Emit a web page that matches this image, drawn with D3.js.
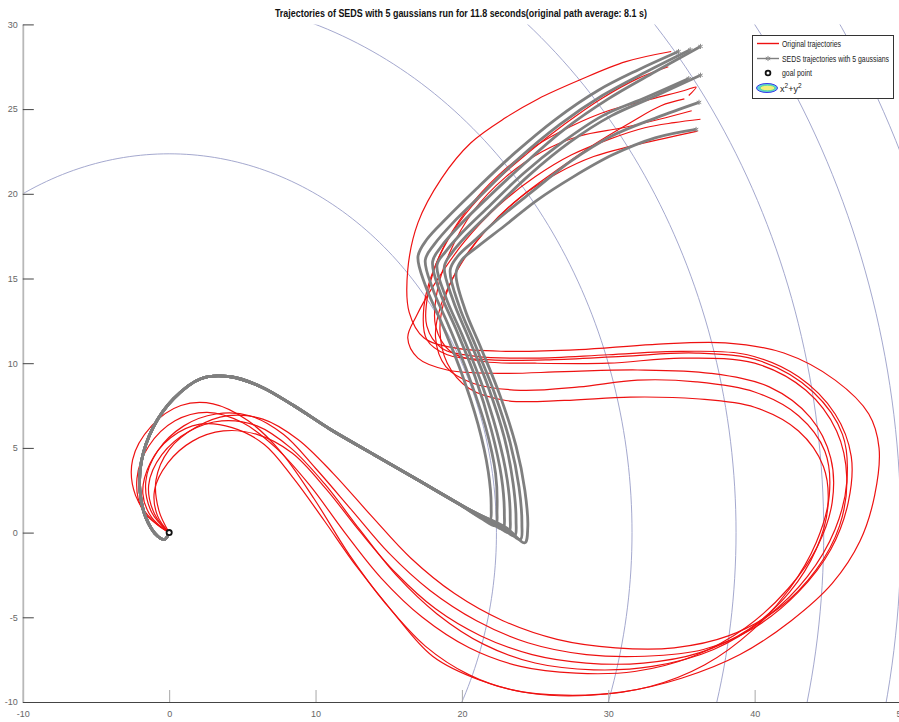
<!DOCTYPE html>
<html>
<head>
<meta charset="utf-8">
<script src="https://cdn.jsdelivr.net/npm/d3@7"></script>
<style>
  body { margin: 0; background: #fff; }
  svg { display: block; font-family: "Liberation Sans", Arial, sans-serif; }
</style>
</head>
<body>
<svg id="chart" width="899" height="722"></svg>
<script>
// ---- axis ticks ----
const xTicks = [-10, 0, 10, 20, 30, 40, 50];
const yTicks = [-10, -5, 0, 5, 10, 15, 20, 25, 30];

// ---- Lyapunov contour levels of x^2 + y^2 ----
const contourLevels = [500, 1000, 1500, 2000, 2500, 3000];

// ---- goal (attractor) ----
const goalPoint = [0, 0];

// ---- original demonstrations [x, y] ----
const original1 = [[34.3,28.4],[31.2,27.8],[28.0,26.7],[25.2,25.6],[23.0,24.5],[20.6,23.0],[18.6,20.9],[17.0,18.3],[16.3,15.5],[16.4,13.0],[17.4,11.5],[19.5,10.9],[23,10.7],[28,10.8],[33,11.1],[38,11.2],[42,10.6],[45.5,9.0],[47.8,7.0],[48.5,5.0],[48.2,2.2],[47.2,-0.5],[45.3,-3.0],[42.5,-5.2],[39,-7.2],[35,-8.6],[31,-9.4],[27,-9.6],[23.5,-9.3],[20.5,-8.4],[17.5,-6.7],[14.8,-4.2],[12.3,-1.3],[9.9,2.0],[7.6,4.8],[5.4,6.6],[3.0,7.6],[0.8,7.5],[-1.2,6.3],[-2.5,4.3],[-2.3,2.2],[-1.0,0.6],[0,0]];
const original2 = [[35.5,25.8],[36.0,26.3],[35.2,26.1],[33,25.6],[30,24.9],[27.5,24.0],[25,22.8],[22.5,21.1],[20.3,19.0],[18.6,16.6],[17.7,14.2],[17.6,12.2],[18.6,10.9],[21,10.4],[25,10.3],[30,10.5],[35,10.7],[39.5,10.5],[43,9.2],[45.5,7.0],[46.6,4.5],[46.4,1.8],[45.2,-1.0],[43,-3.5],[40,-5.6],[36.5,-6.9],[32.5,-7.3],[28.5,-7.2],[24.5,-6.5],[21,-5.2],[17.8,-3.4],[15,-1.2],[12.5,1.3],[10,3.8],[7.8,5.8],[5.5,6.9],[3.2,7.0],[1.0,6.3],[-0.8,4.8],[-1.6,3.0],[-1.2,1.2],[0,0]];
const original3 = [[34.1,27.5],[32,26.8],[29.5,25.6],[27,24.1],[24.5,22.4],[22,20.5],[19.8,18.3],[18.2,15.8],[17.4,13.3],[17.6,11.4],[19.0,10.5],[22,10.2],[26,10.2],[31,10.4],[36,10.6],[40.5,10.1],[44,8.3],[46,5.8],[46.3,3.0],[45.5,0.2],[43.6,-2.6],[40.8,-5.0],[37.2,-6.9],[33,-7.9],[29,-8.1],[25,-7.7],[21.5,-6.6],[18.3,-4.8],[15.5,-2.5],[13,0.2],[10.6,2.9],[8.3,5.0],[6,6.3],[3.6,6.6],[1.4,6.0],[-0.5,4.6],[-1.4,2.8],[-1.0,1.1],[0,0]];
const original4 = [[35.7,24.9],[33.5,24.4],[31,23.9],[28,23.4],[25.5,22.5],[23,21.0],[20.8,19.0],[19.2,16.6],[18.3,14.2],[18.2,12.2],[19.2,10.7],[21.5,10.1],[25,10.0],[30,10.0],[35,10.3],[40,10.0],[43.5,8.4],[45.6,6.0],[46.3,3.2],[45.8,0.4],[44.2,-2.2],[41.6,-4.5],[38.2,-6.1],[34.5,-6.8],[30.5,-6.8],[26.5,-6.3],[22.8,-5.2],[19.5,-3.6],[16.5,-1.5],[13.8,1.0],[11.2,3.5],[8.8,5.5],[6.4,6.7],[4.0,6.9],[1.8,6.2],[0,4.9],[-0.9,3.1],[-0.7,1.3],[0,0]];
const original5 = [[36.3,24.4],[34.5,24.2],[32.5,23.9],[30,23.2],[27.5,22.3],[25,21.0],[22.5,19.3],[20.2,17.2],[18.3,14.9],[16.9,12.8],[16.3,11.5],[17.0,10.3],[19,9.6],[22.5,9.4],[27,9.5],[32,9.6],[37,9.4],[41,8.6],[43.8,6.8],[45.2,4.4],[45.3,1.8],[44.3,-0.8],[42.3,-3.3],[39.4,-5.6],[35.8,-7.3],[31.8,-8.2],[27.8,-8.3],[24,-7.9],[20.5,-6.8],[17.3,-5.0],[14.5,-2.7],[12,0],[9.6,2.8],[7.3,5.0],[5.0,6.5],[2.6,7.1],[0.4,6.6],[-1.4,5.1],[-2.2,3.2],[-1.8,1.3],[0,0]];
const original6 = [[36.1,23.7],[34,23.3],[31.5,22.8],[29,22.2],[26.5,21.2],[24,19.8],[21.8,18.0],[19.9,15.8],[18.6,13.5],[18.2,11.5],[18.9,9.8],[20.8,8.8],[24,8.4],[28,8.6],[32,9.0],[36,8.9],[40,8.3],[43,6.9],[44.8,4.8],[45.1,2.2],[44.2,-0.6],[42.4,-3.3],[39.8,-5.8],[36.6,-7.8],[32.8,-9.1],[28.8,-9.6],[24.8,-9.5],[21.2,-8.7],[18,-7.3],[15.2,-4.6],[12.8,-2.0],[10.6,0.7],[8.5,3.2],[6.5,5.2],[4.3,6.2],[2.1,6.4],[0.1,5.6],[-1.3,4.1],[-1.8,2.3],[-1.2,0.9],[0,0]];
const original7 = [[35.2,25.6],[33.6,25.2],[31.5,24.2],[29,22.9],[26.5,21.4],[24,19.8],[21.8,18.0],[20,16.0],[18.9,14.0],[18.5,12.0],[19.0,10.0],[20.5,8.5],[23,7.8],[27,7.8],[31.5,8.0],[36,7.9],[40,7.4],[43,6.0],[44.7,3.9],[45.0,1.5],[44.2,-1.0],[42.4,-3.5],[39.6,-5.7],[36.2,-7.1],[32.4,-7.7],[28.5,-7.7],[24.8,-7.2],[21.3,-6.1],[18.2,-4.5],[15.5,-2.4],[13,0.1],[10.7,2.6],[8.4,4.7],[6,5.8],[3.7,6.0],[1.6,5.4],[-0.1,4.1],[-1.0,2.5],[-0.8,1.0],[0,0]];
const originalTrajectories = [original1, original2, original3, original4, original5, original6, original7];

// ---- SEDS reproductions: individual descent from each start, then a shared return to the goal ----
const seds1 = [[34.8,28.4],[32,27.3],[29.3,26.1],[26.4,24.4],[23.6,22.4],[21.0,20.3],[19.0,18.6],[17.6,17.3],[17.0,16.3],[17.5,14.6],[18.6,12.4],[19.9,9.6],[21.1,6.4],[21.8,3.6],[22.0,1.5],[21.9,0.7],[21.1,1.0],[19.4,1.9]];
const seds2 = [[35.6,28.5],[32.6,27.2],[29.6,25.8],[26.7,24.1],[23.9,22.1],[21.4,20.0],[19.4,18.3],[18.1,17.0],[17.5,16.1],[18.0,14.4],[19.1,12.2],[20.4,9.4],[21.6,6.3],[22.3,3.5],[22.4,1.3],[22.3,0.4],[21.4,0.8],[19.6,1.8]];
const seds3 = [[36.3,28.7],[33.2,27.2],[30.0,25.6],[27.0,23.8],[24.3,21.8],[21.8,19.8],[19.8,18.1],[18.6,16.9],[18.0,16.0],[18.5,14.2],[19.6,12.0],[20.9,9.2],[22.0,6.1],[22.7,3.3],[22.9,1.1],[22.8,0.2],[21.8,0.7],[19.8,1.7]];
const seds4 = [[35.5,26.8],[32.6,25.7],[29.6,24.6],[26.8,23.0],[24.2,21.2],[21.9,19.3],[20.0,17.7],[18.9,16.6],[18.3,15.8],[18.9,13.9],[20.0,11.7],[21.3,8.9],[22.4,5.9],[23.1,3.1],[23.3,0.9],[23.2,0.0],[22.1,0.6],[20.0,1.6]];
const seds5 = [[36.3,27.0],[33.3,25.8],[30.2,24.6],[27.3,23.0],[24.6,21.1],[22.3,19.2],[20.4,17.6],[19.3,16.5],[18.8,15.7],[19.4,13.7],[20.5,11.4],[21.8,8.6],[22.9,5.6],[23.5,2.9],[23.7,0.7],[23.6,-0.2],[22.4,0.5],[20.2,1.5]];
const seds6 = [[36.2,25.4],[33.3,24.5],[30.2,23.4],[27.4,21.9],[24.9,20.2],[22.6,18.6],[20.8,17.2],[19.7,16.3],[19.2,15.5],[19.8,13.4],[20.9,11.1],[22.2,8.3],[23.3,5.3],[23.9,2.7],[24.1,0.5],[24.0,-0.4],[22.7,0.4],[20.4,1.4]];
const seds7 = [[36.0,23.8],[33.2,23.3],[30.3,22.3],[27.6,21.0],[25.1,19.6],[22.9,18.1],[21.1,16.9],[20.0,16.1],[19.6,15.3],[20.2,13.2],[21.3,10.9],[22.6,8.1],[23.7,5.1],[24.3,2.5],[24.5,0.3],[24.3,-0.6],[23.0,0.3],[20.6,1.3]];
const sedsReturn = [[17,3.1],[14,4.6],[11,6.1],[8.5,7.5],[6.3,8.6],[4.2,9.2],[2.2,9.1],[0.3,7.9],[-1.1,6.2],[-1.9,4.2],[-2.0,2.5],[-1.6,0.9],[-0.8,-0.2],[-0.3,-0.4],[0,0]];
const sedsTrajectories = [seds1, seds2, seds3, seds4, seds5, seds6, seds7].map(d => d.concat(sedsReturn));

const titleText = "Trajectories of SEDS with 5 gaussians run for 11.8 seconds(original path average: 8.1 s)";
const legendLabels = ["Original trajectories", "SEDS trajectories with 5 gaussians", "goal point"];

// ---- layout ----
const svg = d3.select("#chart");
const x = d3.scaleLinear().domain([-10, 50]).range([22.8, 901]);
const y = d3.scaleLinear().domain([-10, 30]).range([702, 24.4]);

svg.append("defs").append("clipPath").attr("id", "plotClip")
  .append("rect")
  .attr("x", x(-10)).attr("y", y(30))
  .attr("width", x(50) - x(-10)).attr("height", y(-10) - y(30));

const line = d3.line().x(d => x(d[0])).y(d => y(d[1])).curve(d3.curveCatmullRom.alpha(0.5));
const plainLine = d3.line().x(d => x(d[0])).y(d => y(d[1]));

// contour circles of the quadratic Lyapunov function
const angles = d3.range(0, 361, 1).map(a => a * Math.PI / 180);
svg.append("g").attr("clip-path", "url(#plotClip)")
  .selectAll("path").data(contourLevels).join("path")
  .attr("d", lv => {
    const r = Math.sqrt(lv);
    return plainLine(angles.map(a => [r * Math.cos(a), r * Math.sin(a)]));
  })
  .attr("fill", "none")
  .attr("stroke", "#9a9ec8")
  .attr("stroke-width", 0.9);

// original demonstrations
svg.append("g").selectAll("path").data(originalTrajectories).join("path")
  .attr("d", line)
  .attr("fill", "none")
  .attr("stroke", "#ee1111")
  .attr("stroke-width", 1.2);

// SEDS reproductions
const gSeds = svg.append("g");
gSeds.selectAll("path").data(sedsTrajectories).join("path")
  .attr("d", line)
  .attr("fill", "none")
  .attr("stroke", "#7f7f7f")
  .attr("stroke-width", 2.8)
  .attr("stroke-linejoin", "round");

const starType = d3.symbolAsterisk || d3.symbolCross;
const star = d3.symbol().type(starType).size(18);
gSeds.selectAll("path.start").data(sedsTrajectories).join("path")
  .attr("class", "start")
  .attr("transform", d => `translate(${x(d[0][0])},${y(d[0][1])})`)
  .attr("d", star)
  .attr("fill", "none")
  .attr("stroke", "#8a8a8a")
  .attr("stroke-width", 1);

// goal point
svg.append("circle")
  .attr("cx", x(goalPoint[0])).attr("cy", y(goalPoint[1]))
  .attr("r", 2.6)
  .attr("fill", "#fff")
  .attr("stroke", "#111")
  .attr("stroke-width", 1.8);

// ---- axes ----
const xAxis = svg.append("g").attr("transform", `translate(0,${y(-10)})`)
  .call(d3.axisBottom(x).tickValues(xTicks).tickFormat(d => String(d))
    .tickSizeInner(-12).tickSizeOuter(0).tickPadding(9));
xAxis.select(".domain").attr("stroke", "#444").attr("stroke-width", 1.2);
xAxis.selectAll(".tick line").attr("stroke", "#a8a8a8").attr("stroke-width", 1);
xAxis.selectAll(".tick text").attr("fill", "#666").attr("font-size", 9);

const yAxis = svg.append("g").attr("transform", `translate(${x(-10)},0)`)
  .call(d3.axisLeft(y).tickValues(yTicks).tickFormat(d => String(d))
    .tickSizeInner(-11).tickSizeOuter(0).tickPadding(5));
yAxis.select(".domain").attr("stroke", "#b8b8b8").attr("stroke-width", 1.8);
yAxis.selectAll(".tick line").attr("stroke", "#444").attr("stroke-width", 1);
yAxis.selectAll(".tick text").attr("fill", "#666").attr("font-size", 9);

// ---- title ----
svg.append("text")
  .attr("x", (x(-10) + 899) / 2).attr("y", 17)
  .attr("text-anchor", "middle")
  .attr("font-size", 11).attr("font-weight", "bold").attr("fill", "#111")
  .attr("textLength", 372).attr("lengthAdjust", "spacingAndGlyphs")
  .text(titleText);

// ---- legend ----
const lg = svg.append("g");
lg.append("rect")
  .attr("x", 752.5).attr("y", 35.5).attr("width", 141).attr("height", 63)
  .attr("fill", "#fff").attr("stroke", "#333").attr("stroke-width", 1);

const rowY = [43.5, 58.5, 73, 88];
const textX = 782;

lg.append("line").attr("x1", 757).attr("x2", 779).attr("y1", rowY[0]).attr("y2", rowY[0])
  .attr("stroke", "#ee1111").attr("stroke-width", 1.4);
lg.append("line").attr("x1", 757).attr("x2", 779).attr("y1", rowY[1]).attr("y2", rowY[1])
  .attr("stroke", "#7f7f7f").attr("stroke-width", 1.4);
lg.append("path").attr("transform", `translate(768,${rowY[1]})`).attr("d", star)
  .attr("fill", "none").attr("stroke", "#8a8a8a").attr("stroke-width", 1);
lg.append("circle").attr("cx", 768).attr("cy", rowY[2]).attr("r", 2.4)
  .attr("fill", "#fff").attr("stroke", "#111").attr("stroke-width", 1.8);
lg.append("ellipse").attr("cx", 767).attr("cy", rowY[3]).attr("rx", 10.5).attr("ry", 4.5)
  .attr("fill", "#5fd0d8").attr("stroke", "#3a3ae8").attr("stroke-width", 1);
lg.append("ellipse").attr("cx", 767.5).attr("cy", rowY[3]).attr("rx", 7.5).attr("ry", 2.8)
  .attr("fill", "#f3ef7a").attr("stroke", "#48d89a").attr("stroke-width", 0.8);

const legendWidths = [59, 107, 30];
legendLabels.forEach((t, i) => {
  lg.append("text")
    .attr("x", textX).attr("y", rowY[i] + 3)
    .attr("font-size", 9).attr("fill", "#222")
    .attr("textLength", legendWidths[i]).attr("lengthAdjust", "spacingAndGlyphs")
    .text(t);
});
const fx = lg.append("text").attr("x", 780).attr("y", rowY[3] + 3.5)
  .attr("font-size", 9).attr("fill", "#222");
fx.append("tspan").text("x");
fx.append("tspan").attr("dy", -3.5).attr("font-size", 6.5).text("2");
fx.append("tspan").attr("dy", 3.5).text("+y");
fx.append("tspan").attr("dy", -3.5).attr("font-size", 6.5).text("2");
</script>
</body>
</html>
